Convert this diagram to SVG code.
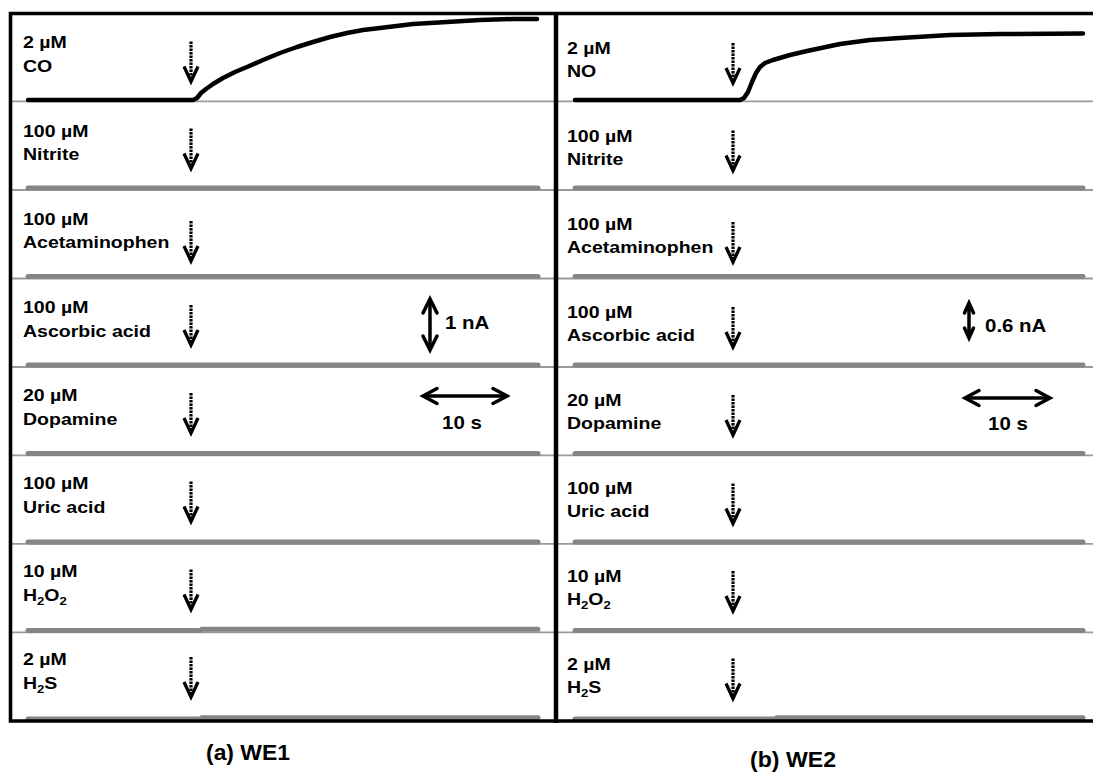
<svg xmlns="http://www.w3.org/2000/svg" xmlns:xlink="http://www.w3.org/1999/xlink" width="1093" height="773" viewBox="0 0 1093 773">
<style>
.lbl{font-family:"Liberation Sans",Arial,sans-serif;font-weight:bold;font-size:16.4px;fill:#000}
.scl{font-family:"Liberation Sans",Arial,sans-serif;font-weight:bold;font-size:18.6px;fill:#000}
.cap{font-family:"Liberation Sans",Arial,sans-serif;font-weight:bold;font-size:22px;fill:#000}
.sep{stroke:#9a9a9a;stroke-width:1.8;fill:none}
.trace{stroke:#858585;stroke-width:5;stroke-linecap:round;fill:none}
.resp{stroke:#000;stroke-width:4.5;stroke-linecap:round;stroke-linejoin:round;fill:none}
.frame{stroke:#000;stroke-width:3.6;fill:none}
.bar{stroke:#000;stroke-width:3.5;fill:none;stroke-linecap:round;stroke-linejoin:miter}
.shaft{stroke:#000;stroke-width:3.2;stroke-dasharray:2.4 1.1;fill:none}
.head{stroke:#000;stroke-width:3.3;fill:none;stroke-linejoin:miter}
</style>
<defs>
<g id="stim">
<line class="shaft" x1="0" y1="0" x2="0" y2="37"/>
<polyline class="head" points="-7,25 0,40 7,25"/>
</g>
</defs>
<rect width="1093" height="773" fill="#fff"/>

<g id="separators">
<line class="sep" x1="12" y1="101.3" x2="1093" y2="101.3"/>
<line class="sep" x1="12" y1="190" x2="1093" y2="190"/>
<line class="sep" x1="12" y1="278.5" x2="1093" y2="278.5"/>
<line class="sep" x1="12" y1="367" x2="1093" y2="367"/>
<line class="sep" x1="12" y1="455.3" x2="1093" y2="455.3"/>
<line class="sep" x1="12" y1="543.8" x2="1093" y2="543.8"/>
<line class="sep" x1="12" y1="632.3" x2="1093" y2="632.3"/>
</g>

<g id="traces">
<path class="trace" d="M28,188 L538,188"/>
<path class="trace" d="M28,276.5 L538,276.5"/>
<path class="trace" d="M28,365 L538,365"/>
<path class="trace" d="M28,453.5 L538,453.5"/>
<path class="trace" d="M28,542 L538,542"/>
<path class="trace" d="M28,630.5 L200,630.5 L202,629.3 L538,629.3"/>
<path class="trace" d="M28,719 L200,719 L202,717.8 L538,717.8"/>
<path class="trace" d="M575,188 L1083,188"/>
<path class="trace" d="M575,276.5 L1083,276.5"/>
<path class="trace" d="M575,365 L1083,365"/>
<path class="trace" d="M575,453.5 L1083,453.5"/>
<path class="trace" d="M575,542 L1083,542"/>
<path class="trace" d="M575,630.5 L1083,630.5"/>
<path class="trace" d="M575,719 L775,719 L777,717.8 L1083,717.8"/>
<path class="resp" d="M28,100 L193,100 L197,98 L201,93 L206,89 L213,84 L223,78 L235,72 L247,67 L263,60 L280,53 L297,47 L313,42 L330,37 L347,33 L363,30 L380,28 L413,24 L447,22 L480,20 L513,19 L537,19"/>
<path class="resp" d="M575,100 L740,100 L744,98 L748,92 L752,82 L756,73 L760,67 L765,63 L773,60 L790,55 L807,51 L840,44 L870,40 L900,38 L950,35 L1000,34 L1083,33.5"/>
</g>

<g id="frame">
<polyline class="frame" points="1093,13.5 10.5,13.5 10.5,721 1093,721"/>
<line stroke="#000" stroke-width="4.5" x1="556" y1="12" x2="556" y2="723"/>
</g>

<g id="panel-a">
<g id="a-co"><text class="lbl" transform="matrix(1.19 0 0 1 23 48)">2 µM</text><text class="lbl" transform="matrix(1.19 0 0 1 23 72)">CO</text></g>
<g id="a-nitrite"><text class="lbl" transform="matrix(1.19 0 0 1 23 136.5)">100 µM</text><text class="lbl" transform="matrix(1.19 0 0 1 23 160)">Nitrite</text></g>
<g id="a-acet"><text class="lbl" transform="matrix(1.19 0 0 1 23 224.5)">100 µM</text><text class="lbl" transform="matrix(1.19 0 0 1 23 248.3)">Acetaminophen</text></g>
<g id="a-asc"><text class="lbl" transform="matrix(1.19 0 0 1 23 312.5)">100 µM</text><text class="lbl" transform="matrix(1.19 0 0 1 23 336.5)">Ascorbic acid</text></g>
<g id="a-dop"><text class="lbl" transform="matrix(1.19 0 0 1 23 400.5)">20 µM</text><text class="lbl" transform="matrix(1.19 0 0 1 23 424.5)">Dopamine</text></g>
<g id="a-uric"><text class="lbl" transform="matrix(1.19 0 0 1 23 489)">100 µM</text><text class="lbl" transform="matrix(1.19 0 0 1 23 513)">Uric acid</text></g>
<g id="a-h2o2"><text class="lbl" transform="matrix(1.19 0 0 1 23 577)">10 µM</text><text class="lbl" transform="matrix(1.19 0 0 1 23 601)">H<tspan font-size="11" dy="4">2</tspan><tspan dy="-4">O</tspan><tspan font-size="11" dy="4">2</tspan></text></g>
<g id="a-h2s"><text class="lbl" transform="matrix(1.19 0 0 1 23 665)">2 µM</text><text class="lbl" transform="matrix(1.19 0 0 1 23 688.5)">H<tspan font-size="11" dy="4">2</tspan><tspan dy="-4">S</tspan></text></g>
<g id="a-scale">
<line class="bar" x1="430" y1="301" x2="430" y2="348"/>
<polyline class="bar" points="423,313 430,299 437,313"/>
<polyline class="bar" points="423,336 430,350 437,336"/>
<text class="scl" transform="matrix(1.1 0 0 1 445 328.5)">1 nA</text>
<line class="bar" x1="425" y1="396" x2="505" y2="396"/>
<polyline class="bar" points="437,388.5 423,396 437,403.5"/>
<polyline class="bar" points="493,388.5 507,396 493,403.5"/>
<text class="scl" transform="matrix(1.1 0 0 1 442 429)">10 s</text>
</g>
<text id="cap-a" class="cap" x="206" y="760" textLength="84" lengthAdjust="spacingAndGlyphs">(a) WE1</text>
</g>

<g id="panel-b">
<g id="b-no"><text class="lbl" transform="matrix(1.19 0 0 1 567 53.5)">2 µM</text><text class="lbl" transform="matrix(1.19 0 0 1 567 77)">NO</text></g>
<g id="b-nitrite"><text class="lbl" transform="matrix(1.19 0 0 1 567 141.5)">100 µM</text><text class="lbl" transform="matrix(1.19 0 0 1 567 165)">Nitrite</text></g>
<g id="b-acet"><text class="lbl" transform="matrix(1.19 0 0 1 567 229.5)">100 µM</text><text class="lbl" transform="matrix(1.19 0 0 1 567 253)">Acetaminophen</text></g>
<g id="b-asc"><text class="lbl" transform="matrix(1.19 0 0 1 567 317.5)">100 µM</text><text class="lbl" transform="matrix(1.19 0 0 1 567 341)">Ascorbic acid</text></g>
<g id="b-dop"><text class="lbl" transform="matrix(1.19 0 0 1 567 405.5)">20 µM</text><text class="lbl" transform="matrix(1.19 0 0 1 567 429)">Dopamine</text></g>
<g id="b-uric"><text class="lbl" transform="matrix(1.19 0 0 1 567 493.5)">100 µM</text><text class="lbl" transform="matrix(1.19 0 0 1 567 517)">Uric acid</text></g>
<g id="b-h2o2"><text class="lbl" transform="matrix(1.19 0 0 1 567 581.5)">10 µM</text><text class="lbl" transform="matrix(1.19 0 0 1 567 605)">H<tspan font-size="11" dy="4">2</tspan><tspan dy="-4">O</tspan><tspan font-size="11" dy="4">2</tspan></text></g>
<g id="b-h2s"><text class="lbl" transform="matrix(1.19 0 0 1 567 669.5)">2 µM</text><text class="lbl" transform="matrix(1.19 0 0 1 567 693)">H<tspan font-size="11" dy="4">2</tspan><tspan dy="-4">S</tspan></text></g>
<g id="b-scale">
<line class="bar" x1="969" y1="305" x2="969" y2="336"/>
<polyline class="bar" points="964.5,313 969,303 973.5,313"/>
<polyline class="bar" points="964.5,328 969,338 973.5,328"/>
<text class="scl" transform="matrix(1.1 0 0 1 985 332)">0.6 nA</text>
<line class="bar" x1="967" y1="398" x2="1048" y2="398"/>
<polyline class="bar" points="979,390.5 965,398 979,405.5"/>
<polyline class="bar" points="1036,390.5 1050,398 1036,405.5"/>
<text class="scl" transform="matrix(1.1 0 0 1 988 430)">10 s</text>
</g>
<text id="cap-b" class="cap" x="750" y="767" textLength="86" lengthAdjust="spacingAndGlyphs">(b) WE2</text>
</g>

<g id="connectors">
<use xlink:href="#stim" x="191" y="41.5"/>
<use xlink:href="#stim" x="191" y="128.5"/>
<use xlink:href="#stim" x="191" y="221"/>
<use xlink:href="#stim" x="191" y="305"/>
<use xlink:href="#stim" x="191" y="393"/>
<use xlink:href="#stim" x="191" y="481.5"/>
<use xlink:href="#stim" x="191" y="569.5"/>
<use xlink:href="#stim" x="191" y="657"/>
<use xlink:href="#stim" x="733" y="43"/>
<use xlink:href="#stim" x="733" y="130.5"/>
<use xlink:href="#stim" x="733" y="222"/>
<use xlink:href="#stim" x="733" y="307"/>
<use xlink:href="#stim" x="733" y="395"/>
<use xlink:href="#stim" x="733" y="483.5"/>
<use xlink:href="#stim" x="733" y="571"/>
<use xlink:href="#stim" x="733" y="658.5"/>
</g>
</svg>
